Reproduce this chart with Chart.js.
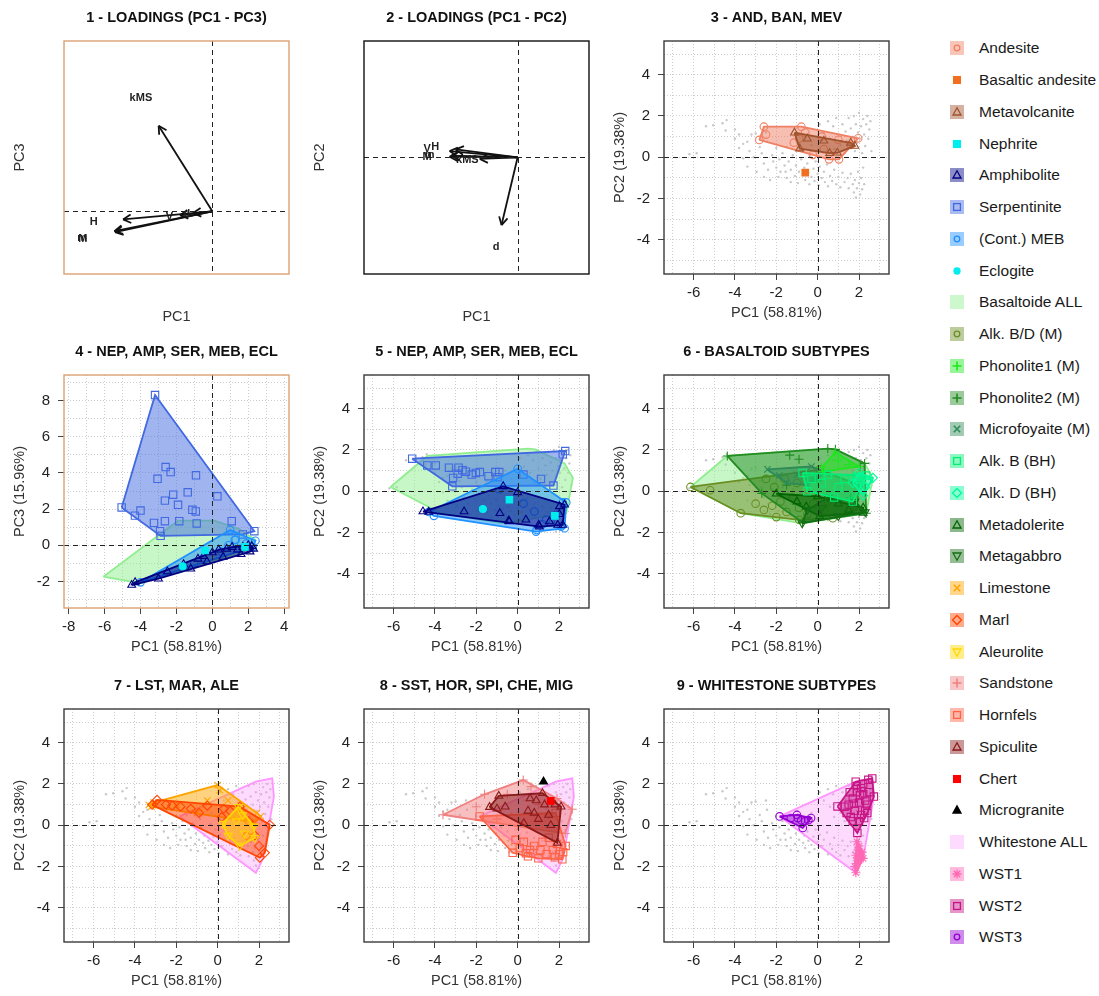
<!DOCTYPE html>
<html>
<head>
<meta charset="utf-8">
<script src="https://cdn.jsdelivr.net/npm/chart.js@4.4.1/dist/chart.umd.min.js"></script>
<style>
  body { margin: 0; background: #fff; width: 1099px; height: 996px; overflow: hidden; position: relative;
         font-family: "Liberation Sans", Arial, sans-serif; }
  canvas.panel { position: absolute; }
  .lg { position: absolute; left: 949px; height: 16px; }
  .lg svg { position: absolute; left: 0; top: 0; }
  .lg span { position: absolute; left: 30px; top: -1px; line-height: 18px; white-space: nowrap; font-size: 15.5px; color: #1a1a1a; }
</style>
</head>
<body>
<div id="legend"></div>
<script>
const FONT = '"Liberation Sans", Arial, sans-serif';

// ---- loadings (plot units) ----
const load13Names = ['kMS', 'H', 'M', 'm', 'V', 'd'];
const load13PC1 = [-2.99, -4.97, -5.42, -5.45, -1.8, -1.07];
const load13PC3 = [4.73, -0.45, -1.16, -1.1, -0.22, -0.1];

const load12Names = ['kMS', 'H', 'V', 'M', 'm', 'd'];
const load12PC1 = [-1.83, -3.0, -3.29, -3.29, -3.2, -0.78];
const load12PC2 = [-0.08, 0.38, 0.3, 0.03, 0.08, -3.28];

// ---- all samples, PC1 / PC2 (grey background) ----
const allSamples = [
  [-6.2,0.15],[-5.85,0.2],[-5.4,1.5],[-5.05,1.55],[-4.6,1.65],[-4.4,1.8],[-4.45,1.3],[-4.0,1.35],[-4.0,0.9],
  [-3.8,0.45],[-3.6,0.65],[-3.4,0.75],[-3.2,1.1],[-3.0,1.15],[-3.3,0.3],[-3.6,-0.05],[-3.4,-0.45],[-3.1,0.0],
  [-2.95,-0.7],[-2.8,0.5],[-2.7,0.2],[-2.6,-0.3],[-2.6,-0.95],[-2.45,0.75],[-2.4,-0.6],[-2.3,-1.1],[-2.2,0.1],
  [-2.15,-0.2],[-2.0,-0.5],[-2.0,0.45],[-1.9,-0.95],[-1.85,-0.1],[-1.8,-0.7],[-1.7,0.2],[-1.6,-0.4],[-1.55,-0.7],
  [-1.5,-1.0],[-1.4,-0.2],[-1.3,-1.2],[-1.3,-0.6],[-1.2,0.1],[-1.1,-0.9],[-1.05,-0.4],[-0.95,-1.25],[-0.9,-0.7],
  [-0.85,0.3],[-0.8,-0.1],[-0.7,-0.85],[-0.65,-0.5],[-0.6,-1.1],[-0.5,-0.3],[-0.45,-0.75],[-0.4,-1.3],[-0.35,0.05],
  [-0.3,-0.95],[-0.2,-0.55],[-0.15,-1.15],[-0.1,-0.2],[0.0,-0.8],[0.05,-1.35],[0.1,-0.45],[0.2,-1.0],[0.3,-0.7],
  [0.35,-1.2],[0.45,-0.35],[0.5,-1.4],[0.6,-0.9],[0.7,-1.15],[0.8,-0.6],[0.9,-1.3],[1.0,-0.95],[1.1,-1.45],
  [1.2,-0.75],[1.3,-1.2],[1.45,-1.0],[1.5,-1.5],[1.6,-0.8],[1.7,-1.3],[1.75,-1.7],[1.8,-1.1],[1.85,-1.95],
  [1.9,-1.5],[1.95,-0.7],[2.0,-1.25],[2.05,-1.8],[2.1,-1.0],[2.15,-1.55],[2.2,-0.5],[2.25,-1.3],
  [0.1,1.6],[0.3,1.2],[0.5,1.75],[0.6,0.9],[0.75,1.5],[0.8,0.4],[0.9,1.9],[1.0,1.1],[1.1,0.6],[1.2,1.6],
  [1.3,0.2],[1.35,1.25],[1.4,0.8],[1.5,1.9],[1.55,0.45],[1.6,1.4],[1.7,1.0],[1.75,2.0],[1.8,0.3],[1.85,1.6],
  [1.9,0.7],[1.95,1.2],[2.0,2.15],[2.05,0.9],[2.1,1.5],[2.15,0.2],[2.2,1.85],[2.25,1.1],[2.3,0.55],[2.35,1.6],
  [2.4,2.0],[2.45,0.9],[2.5,1.35],[2.55,1.75],[2.6,0.3],[-0.6,1.0],[-1.0,0.7],[-0.3,0.6],[0.0,0.3],[-1.5,0.5],
  [-2.5,1.2],[-3.8,1.1]
];

// ---- PC1 / PC2 groups ----
const andesite12 = [[-2.6,1.48],[-2.82,0.84],[-2.5,1.1],[-0.79,1.48],[-1.15,0.71],[-0.6,1.2],[0.2,1.0],[1.0,0.85],
  [1.96,0.92],[1.6,0.6],[1.03,-0.1],[0.55,-0.1],[-0.23,0.12],[0.3,0.4],[-0.9,0.9]];
const metavolc12 = [[-1.12,1.19],[-0.87,0.42],[0.58,0.2],[0.95,0.22],[1.8,0.55],[1.6,0.7],[0.3,0.8],[-0.5,0.9]];
const basAndesite12 = [[-0.6,-0.74]];

const serp12 = [[-5.1,1.58],[-4.37,1.25],[-3.96,1.25],[-3.32,1.14],[-2.86,1.14],[-2.67,1.02],[-2.22,0.81],[-2.02,0.89],
  [-1.83,0.93],[-1.41,0.73],[-1.08,0.93],[-0.89,0.93],[-0.97,0.68],[-3.12,0.65],[-3.16,0.24],[0.28,0.81],[1.13,0.6],
  [1.73,0.28],[2.3,1.95],[2.18,1.79],[-2.5,0.95],[-2.9,0.85]];
const meb12 = [[-4.05,-1.19],[-4.3,-1.0],[-0.9,0.1],[0.0,1.09],[2.35,-0.54],[2.27,-1.79],[0.89,-1.95],[0.28,-0.6],
  [0.81,-0.98],[1.38,-1.38],[0.92,-1.87],[1.86,-1.14],[2.18,-0.54],[2.1,-1.71],[1.6,-1.5],[1.2,-1.6]];
const amph12 = [[-4.58,-0.98],[-0.7,0.24],[0.0,-0.05],[2.02,-0.73],[2.27,-0.65],[2.18,-1.63],[1.05,-1.71],[-0.4,-1.46],
  [-2.59,-0.98],[-0.86,-1.06],[-0.44,-1.43],[0.4,-1.38],[1.02,-1.63],[1.54,-1.46],[2.02,-1.11],[1.94,-1.63],[-4.3,-1.0]];
const neph12 = [[-0.4,-0.41],[1.8,-1.19]];
const eclog12 = [[-1.68,-0.86]];

const alkBDM12 = [[-6.15,0.21],[-5.2,0.05],[-3.72,-1.06],[-2.0,-1.25],[-0.89,-1.38],[0.73,-1.3],[1.9,-0.9],[2.0,0.3],
  [0.1,1.05],[-2.5,0.6],[-2.6,-0.9],[-2.2,-0.7],[-1.8,-0.5],[-1.5,-1.0],[-1.2,-0.3],[-0.9,-0.8],[-0.5,-1.1],
  [-0.2,-0.6],[0.3,-0.9],[-3.0,-0.6],[-1.0,0.4],[-1.6,0.6],[-2.1,0.2],[-0.4,0.7],[0.5,-0.5]];
const phon2M12 = [[-4.37,1.71],[-1.35,1.75],[-0.9,1.55],[0.49,2.07],[0.86,2.03],[2.27,1.35],[2.35,-1.06],
  [-0.73,-1.51],[-2.7,-0.1],[1.6,-0.3],[2.05,1.2],[0.0,0.5],[-1.5,0.3]];
const microfM12 = [[-2.43,1.06],[-1.86,0.76],[-0.3,1.2],[0.4,0.9],[-0.5,0.3],[-1.5,0.4],[-1.0,0.8]];
const metadol12 = [[-2.0,-0.12],[0.0,-0.25],[2.2,-0.8],[2.2,-1.05],[0.1,-1.2],[-0.55,-0.75],[-1.0,-0.5],[1.0,-0.6],[1.5,-0.9]];
const metagab12 = [[-0.75,-1.55],[-0.5,-0.9],[0.5,-0.3],[1.8,-0.5],[2.3,-1.0],[1.0,-1.2],[0.2,-0.8]];
const phon1M12 = [[0.2,1.15],[0.85,1.9],[2.0,1.2],[0.25,0.95],[1.5,1.3],[1.0,1.5]];
const alkBBH12 = [[-0.73,0.89],[2.35,0.76],[1.7,-0.5],[-0.5,0.0],[0.8,-0.3],[0.5,0.8],[1.3,0.6],[0.2,0.4],[1.0,0.2],[-0.3,0.6],[1.9,0.7]];
const alkDBH12 = [[2.67,0.65],[2.3,0.2],[1.7,0.4],[2.0,0.9],[2.2,-0.2],[2.45,0.5]];

const limestone12 = [[-3.33,0.99],[-3.1,1.1],[-3.2,0.9],[0.0,1.95],[0.1,1.7],[2.08,0.43],[1.9,0.6],[1.8,0.15],
  [-1.0,0.6],[-2.0,1.0],[0.5,1.2],[1.2,0.8],[-0.5,1.2]];
const marl12 = [[-3.17,0.99],[-2.93,1.23],[-0.5,0.95],[1.07,0.9],[2.52,0.03],[2.28,-1.33],[2.04,-1.57],[-2.5,1.0],
  [-1.8,0.9],[-1.3,0.8],[-0.9,0.6],[0.3,0.8],[0.6,0.7],[1.5,0.2],[1.8,-0.5],[1.4,-0.5],[2.0,-1.0],[0.2,0.4],[-2.2,0.95]];
const aleurolite12 = [[0.24,0.08],[1.0,0.9],[1.75,-0.05],[1.8,-0.6],[1.07,-1.0],[0.5,-0.5],[1.3,-0.4],[0.9,0.2],[1.2,0.5]];

const sandstone12 = [[-3.61,0.51],[-1.6,1.5],[0.27,2.19],[0.64,1.87],[2.64,0.78],[2.3,-0.4],[0.0,0.0],[-1.0,0.3],
  [-2.0,0.9],[1.0,1.0],[1.5,0.5],[-0.5,1.5],[1.9,1.3]];
const hornfels12 = [[-1.84,0.43],[1.84,0.6],[2.32,-1.0],[2.16,-1.65],[-0.24,-1.33],[0.5,-1.5],[1.0,-1.6],[1.4,-1.4],
  [0.8,-1.0],[1.2,-0.8],[1.7,-1.2],[2.0,-1.4],[0.3,-0.8],[1.5,-0.6],[0.1,-1.1],[0.6,-1.2],[1.9,-0.9],[2.2,-1.3],
  [1.1,-1.2],[0.4,-1.35],[1.8,-1.55],[-0.1,-0.7]];
const spiculite12 = [[-1.36,0.88],[-0.91,1.42],[-1.0,0.8],[-0.6,0.9],[0.3,0.1],[0.6,1.3],[0.9,1.2],[1.2,1.55],[1.3,1.0],
  [1.8,1.0],[2.1,0.9],[1.92,-0.85],[0.8,0.6],[1.5,0.5],[0.5,0.7],[1.0,0.3],[1.6,0.0]];
const chert12 = [[1.6,1.18]];
const microgranite12 = [[1.25,2.11]];

const wst1_12 = [[1.9,-0.8],[2.0,-1.0],[1.95,-1.2],[2.05,-1.35],[1.85,-1.45],[2.1,-1.55],[2.0,-1.7],[1.9,-1.85],
  [1.8,-2.0],[1.85,-2.3],[2.15,-1.3],[1.95,-1.6],[2.2,-1.6]];
const wst2_12 = [[0.96,0.91],[1.84,2.11],[2.64,2.27],[2.72,1.39],[2.4,0.59],[1.92,-0.37],[1.5,1.0],[1.7,1.3],[1.9,1.6],
  [2.1,1.8],[2.2,1.5],[2.3,1.2],[2.0,1.1],[1.8,0.7],[2.1,0.5],[1.6,0.4],[2.4,1.0],[2.0,0.2],[1.4,0.6],[2.2,2.0],
  [1.9,1.9],[2.5,1.6],[1.3,0.9],[1.7,0.2],[2.3,0.7],[2.45,2.2],[1.55,1.6],[2.05,1.45],[1.75,1.05],[2.25,0.35]];
const wst3_12 = [[-1.84,0.43],[-1.0,0.5],[-0.96,0.35],[-0.32,0.35],[-0.72,-0.13],[-0.6,0.2],[-0.8,0.25],[-0.45,0.25],[-1.3,0.35]];

// ---- PC1 / PC3 groups ----
const basaltoid13 = [[-6.07,-1.74],[-3.2,0.4],[-1.9,1.36],[0.1,1.36],[1.5,0.9],[2.4,0.3],[2.3,-0.15],[-4.0,-2.1],
  [-2.0,0.0],[-1.0,-0.3],[0.5,0.2],[1.2,-0.2],[-3.0,-0.8]];
const serp13 = [[-3.19,8.31],[-5.05,2.09],[-4.31,1.64],[-4.0,1.92],[-3.05,3.68],[-2.6,4.33],[-2.32,4.05],[-0.91,3.87],
  [-2.64,2.47],[-2.18,2.8],[-1.91,2.24],[-1.37,2.93],[-1.11,1.96],[-0.92,1.87],[-0.87,1.21],[-1.84,1.33],[-2.64,1.33],
  [-3.25,1.24],[-2.91,0.78],[-2.88,0.52],[0.28,2.71],[1.08,1.33],[2.34,0.78],[1.7,0.6]];
const meb13 = [[-4.0,-2.05],[0.99,0.84],[2.4,0.25],[2.25,-0.1],[1.3,0.3],[0.9,0.0],[1.5,-0.2],[0.5,-0.35],[-1.0,-1.0],[1.9,0.1],[1.25,0.3]];
const amph13 = [[-4.49,-2.2],[-4.3,-2.05],[-2.5,-1.45],[-1.6,-1.05],[-0.8,-0.75],[-0.5,-0.6],[0.0,-0.4],[0.35,-0.25],
  [0.8,-0.2],[1.1,-0.1],[1.4,-0.25],[1.7,-0.1],[2.0,0.0],[2.2,-0.05],[2.3,-0.2],[2.1,-0.35],[1.6,-0.5],[0.6,-0.65],
  [-0.3,-0.9],[-1.2,-1.3],[-3.0,-1.85]];
const neph13 = [[-0.4,-0.29],[1.82,-0.09]];
const eclog13 = [[-1.65,-1.16]];

// ---- styles ----
const STYLE = {
  andesite: {label: 'Andesite', rgb: [240,128,100], marker: 'circle'},
  basAnd:   {label: 'Basaltic andesite', rgb: [240,112,32], marker: 'rect', filled: true, noHull: true},
  metavolc: {label: 'Metavolcanite', rgb: [160,82,45], marker: 'triangle'},
  nephrite: {label: 'Nephrite', rgb: [0,238,238], marker: 'rect', filled: true, noHull: true},
  amph:     {label: 'Amphibolite', rgb: [0,0,128], marker: 'triangle'},
  serp:     {label: 'Serpentinite', rgb: [65,105,225], marker: 'rect'},
  meb:      {label: '(Cont.) MEB', rgb: [30,144,255], marker: 'circle'},
  eclog:    {label: 'Eclogite', rgb: [0,238,238], marker: 'circle', filled: true, noHull: true},
  basAll:   {label: 'Basaltoide ALL', rgb: [144,238,144], marker: null},
  alkBDM:   {label: 'Alk. B/D (M)', rgb: [107,142,35], marker: 'circle'},
  phon1:    {label: 'Phonolite1 (M)', rgb: [30,230,30], marker: 'cross'},
  phon2:    {label: 'Phonolite2 (M)', rgb: [34,139,34], marker: 'cross'},
  microf:   {label: 'Microfoyaite (M)', rgb: [46,139,87], marker: 'crossRot'},
  alkBBH:   {label: 'Alk. B (BH)', rgb: [0,238,118], marker: 'rect'},
  alkDBH:   {label: 'Alk. D (BH)', rgb: [0,250,154], marker: 'rectRot'},
  metadol:  {label: 'Metadolerite', rgb: [0,100,0], marker: 'triangle'},
  metagab:  {label: 'Metagabbro', rgb: [20,110,20], marker: 'triangleDown'},
  limest:   {label: 'Limestone', rgb: [255,165,0], marker: 'crossRot'},
  marl:     {label: 'Marl', rgb: [255,69,0], marker: 'rectRot'},
  aleur:    {label: 'Aleurolite', rgb: [255,215,0], marker: 'triangleDown'},
  sandst:   {label: 'Sandstone', rgb: [240,128,128], marker: 'cross'},
  hornf:    {label: 'Hornfels', rgb: [255,99,71], marker: 'rect'},
  spic:     {label: 'Spiculite', rgb: [139,26,26], marker: 'triangle'},
  chert:    {label: 'Chert', rgb: [255,0,0], marker: 'rect', filled: true, noHull: true},
  microgr:  {label: 'Microgranite', rgb: [0,0,0], marker: 'triangle', filled: true, noHull: true},
  wstAll:   {label: 'Whitestone ALL', rgb: [255,150,255], marker: null, alpha: 0.35},
  wst1:     {label: 'WST1', rgb: [255,105,180], marker: 'star'},
  wst2:     {label: 'WST2', rgb: [199,21,133], marker: 'rect'},
  wst3:     {label: 'WST3', rgb: [148,0,211], marker: 'circle'}
};
const legendOrder = ['andesite','basAnd','metavolc','nephrite','amph','serp','meb','eclog','basAll','alkBDM','phon1',
  'phon2','microf','alkBBH','alkDBH','metadol','metagab','limest','marl','aleur','sandst','hornf','spic','chert',
  'microgr','wstAll','wst1','wst2','wst3'];

const basaltoidAll12 = [].concat(alkBDM12, phon2M12, microfM12, metadol12, metagab12, phon1M12, alkBBH12, alkDBH12);
const whitestoneAll12 = [].concat(wst1_12, wst2_12, wst3_12);

const R12 = {x: [-7.43, 3.45], y: [-5.65, 5.63]};
const R13 = {x: [-8.26, 4.27], y: [-3.47, 9.42]};
const TAN = '#DBA274', DARK = '#3a3a3a';

const PANELS = [
  {title: '1 - LOADINGS (PC1 - PC3)', xt: 'PC1', yt: 'PC3', frame: TAN, range: R13,
   load: {names: load13Names, x: load13PC1, y: load13PC3}},
  {title: '2 - LOADINGS (PC1 - PC2)', xt: 'PC1', yt: 'PC2', frame: '#111', range: R12,
   load: {names: load12Names, x: load12PC1, y: load12PC2}},
  {title: '3 - AND, BAN, MEV', frame: DARK, range: R12, gray: true,
   layers: [['andesite', andesite12], ['metavolc', metavolc12], ['basAnd', basAndesite12]]},
  {title: '4 - NEP, AMP, SER, MEB, ECL', yt: 'PC3 (15.96%)', frame: TAN, range: R13,
   layers: [['basAll', basaltoid13], ['serp', serp13], ['meb', meb13], ['amph', amph13], ['nephrite', neph13], ['eclog', eclog13]]},
  {title: '5 - NEP, AMP, SER, MEB, ECL', frame: DARK, range: R12, gray: true,
   layers: [['basAll', basaltoidAll12], ['serp', serp12], ['meb', meb12], ['amph', amph12], ['nephrite', neph12], ['eclog', eclog12]]},
  {title: '6 - BASALTOID SUBTYPES', frame: DARK, range: R12, gray: true,
   layers: [['basAll', basaltoidAll12], ['alkBDM', alkBDM12], ['phon2', phon2M12], ['microf', microfM12],
            ['metadol', metadol12], ['metagab', metagab12], ['phon1', phon1M12], ['alkBBH', alkBBH12], ['alkDBH', alkDBH12]]},
  {title: '7 - LST, MAR, ALE', frame: DARK, range: R12, gray: true,
   layers: [['wstAll', whitestoneAll12], ['limest', limestone12], ['marl', marl12], ['aleur', aleurolite12]]},
  {title: '8 - SST, HOR, SPI, CHE, MIG', frame: DARK, range: R12, gray: true,
   layers: [['wstAll', whitestoneAll12], ['sandst', sandstone12], ['hornf', hornfels12], ['spic', spiculite12],
            ['chert', chert12], ['microgr', microgranite12]]},
  {title: '9 - WHITESTONE SUBTYPES', frame: DARK, range: R12, gray: true,
   layers: [['wstAll', whitestoneAll12], ['wst1', wst1_12], ['wst2', wst2_12], ['wst3', wst3_12]]}
];

const rgba = (c, a) => `rgba(${c[0]},${c[1]},${c[2]},${a})`;

function convexHull(pts) {
  const p = pts.map(a => a.slice()).sort((a, b) => a[0] - b[0] || a[1] - b[1]);
  const cross = (o, a, b) => (a[0] - o[0]) * (b[1] - o[1]) - (a[1] - o[1]) * (b[0] - o[0]);
  const lower = [], upper = [];
  for (const q of p) {
    while (lower.length >= 2 && cross(lower[lower.length - 2], lower[lower.length - 1], q) <= 0) lower.pop();
    lower.push(q);
  }
  for (let i = p.length - 1; i >= 0; i--) {
    const q = p[i];
    while (upper.length >= 2 && cross(upper[upper.length - 2], upper[upper.length - 1], q) <= 0) upper.pop();
    upper.push(q);
  }
  upper.pop(); lower.pop();
  const h = lower.concat(upper);
  h.push(h[0]);
  return h;
}

function markerOpts(st) {
  const m = st.marker;
  const col = rgba(st.rgb, 1);
  const o = {pointStyle: m === 'triangleDown' ? 'triangle' : m, rotation: m === 'triangleDown' ? 180 : 0,
    radius: 4.5, fill: st.filled ? col : 'rgba(0,0,0,0)', col};
  if (m === 'circle') o.radius = 3.8;
  if (m === 'rect') o.radius = 5.2;
  if (st.filled) o.radius = m === 'circle' ? 3.5 : 4.6;
  return o;
}

function buildDatasets(p) {
  const ds = [];
  if (p.gray) {
    ds.push({type: 'scatter', data: allSamples.map(([x, y]) => ({x, y})), pointRadius: 1.2, pointBorderWidth: 0,
      pointBackgroundColor: '#c8c8c8', pointBorderColor: '#c8c8c8'});
  }
  (p.layers || []).forEach(([key, pts]) => {
    const st = STYLE[key];
    if (!st.noHull && pts.length > 2) {
      ds.push({type: 'line', data: convexHull(pts).map(([x, y]) => ({x, y})), borderColor: rgba(st.rgb, 1),
        backgroundColor: rgba(st.rgb, st.alpha || 0.5), borderWidth: 1.8, pointRadius: 0, fill: 'shape', tension: 0});
    }
    if (st.marker) {
      const m = markerOpts(st);
      ds.push({type: 'scatter', data: pts.map(([x, y]) => ({x, y})), pointStyle: m.pointStyle, pointRotation: m.rotation,
        pointRadius: m.radius, pointBorderWidth: 1.1, pointBorderColor: m.col, pointBackgroundColor: m.fill});
    }
  });
  if (p.load) {
    p.load.names.forEach((n, i) => {
      ds.push({type: 'line', label: n, arrow: true, data: [{x: 0, y: 0}, {x: p.load.x[i], y: p.load.y[i]}],
        borderColor: '#111', borderWidth: 1.8, pointRadius: 0, fill: false});
    });
  }
  ds.forEach((d, i) => { d.order = -i; });
  return ds;
}

const deco = {
  id: 'deco',
  afterDatasetsDraw(chart, args, opts) {
    const {ctx, chartArea: a, scales: {x, y}} = chart;
    ctx.save();
    // arrow heads and loading labels
    chart.data.datasets.forEach((d, i) => {
      if (!d.arrow) return;
      const pts = chart.getDatasetMeta(i).data;
      const p0 = pts[0], p1 = pts[1];
      const ang = Math.atan2(p1.y - p0.y, p1.x - p0.x);
      ctx.strokeStyle = '#111'; ctx.lineWidth = 1.8; ctx.setLineDash([]);
      ctx.beginPath();
      [ang + Math.PI - 0.5, ang + Math.PI + 0.5].forEach(t => {
        ctx.moveTo(p1.x, p1.y);
        ctx.lineTo(p1.x + 9 * Math.cos(t), p1.y + 9 * Math.sin(t));
      });
      ctx.stroke();
      const tip = d.data[1];
      ctx.fillStyle = '#222';
      ctx.font = 'bold 11px ' + FONT;
      ctx.textAlign = 'center'; ctx.textBaseline = 'middle';
      ctx.fillText(d.label, x.getPixelForValue(tip.x * 1.33), y.getPixelForValue(tip.y * 1.33));
    });
    // dashed zero lines
    ctx.strokeStyle = '#222'; ctx.lineWidth = 1; ctx.setLineDash([5, 4]);
    const px = Math.round(x.getPixelForValue(0)) + 0.5, py = Math.round(y.getPixelForValue(0)) + 0.5;
    ctx.beginPath();
    ctx.moveTo(px, a.top); ctx.lineTo(px, a.bottom);
    ctx.moveTo(a.left, py); ctx.lineTo(a.right, py);
    ctx.stroke();
    ctx.restore();
  },
  afterDraw(chart, args, opts) {
    const {ctx, chartArea: a} = chart;
    ctx.save();
    ctx.strokeStyle = opts.frame; ctx.lineWidth = 1.4;
    ctx.strokeRect(a.left, a.top, a.right - a.left, a.bottom - a.top);
    ctx.restore();
  }
};

function axis(isX, p) {
  const range = isX ? p.range.x : p.range.y;
  const ticksOn = !p.load;
  const title = isX ? (p.xt || 'PC1 (58.81%)') : (p.yt || 'PC2 (19.38%)');
  return {
    type: 'linear', min: range[0], max: range[1],
    border: {display: false, dash: [1, 2]},
    grid: {display: ticksOn, color: '#cdcdcd', lineWidth: 1, tickLength: 6, tickWidth: 1, tickBorderDash: [],
      tickColor: c => (c.tick && Math.abs(c.tick.value % 2) === 0) ? '#444' : 'rgba(0,0,0,0)'},
    ticks: {display: ticksOn, stepSize: 1, includeBounds: false, autoSkip: false, maxRotation: 0, minRotation: 0,
      padding: isX ? 4 : 8, color: '#222', font: {family: FONT, size: 15},
      callback: v => Math.abs(v % 2) === 0 ? String(v) : ''},
    title: {display: true, text: title, color: '#333', font: {family: FONT, size: 14.5},
      padding: isX ? {top: 0, bottom: p.load ? 8.6 : 12.3} : {top: 11.3, bottom: 0}},
    afterFit: s => { if (isX) s.height = 60; else s.width = 64; }
  };
}

PANELS.forEach((p, k) => {
  const cv = document.createElement('canvas');
  cv.className = 'panel';
  cv.width = 300; cv.height = 334;
  cv.style.left = (k % 3) * 300 + 'px';
  cv.style.top = Math.floor(k / 3) * 334 + 'px';
  document.body.appendChild(cv);
  new Chart(cv, {
    type: 'scatter',
    data: {datasets: buildDatasets(p)},
    options: {
      responsive: false, animation: false, events: [],
      layout: {padding: {left: 0, top: 0, right: 11, bottom: 0}},
      scales: {x: axis(true, p), y: axis(false, p)},
      plugins: {
        legend: {display: false}, tooltip: {enabled: false},
        title: {display: true, text: p.title, fullSize: false, color: '#111',
          font: {family: FONT, size: 14.5, weight: 'bold'}, padding: {top: 9.3, bottom: 14.3}},
        deco: {frame: p.frame}
      }
    },
    plugins: [deco]
  });
});

// ---- legend ----
function markerSvg(st) {
  const c = rgba(st.rgb, 1);
  const f = st.filled ? c : 'none';
  const s = `stroke="${c}" stroke-width="1.3" fill="${f}"`;
  switch (st.marker) {
    case 'circle': return `<circle cx="8" cy="8" r="${st.filled ? 3 : 2.8}" ${s}/>`;
    case 'rect': return `<rect x="4.6" y="4.6" width="6.8" height="6.8" ${s}/>`;
    case 'triangle': return `<polygon points="8,3.8 12,11 4,11" ${s}/>`;
    case 'triangleDown': return `<polygon points="8,12.2 12,5 4,5" ${s}/>`;
    case 'rectRot': return `<polygon points="8,3.5 12.5,8 8,12.5 3.5,8" ${s}/>`;
    case 'cross': return `<path d="M8 3.5V12.5M3.5 8H12.5" stroke="${c}" stroke-width="1.6"/>`;
    case 'crossRot': return `<path d="M4.8 4.8L11.2 11.2M11.2 4.8L4.8 11.2" stroke="${c}" stroke-width="1.6"/>`;
    case 'star': return `<path d="M8 3.5V12.5M3.5 8H12.5M4.8 4.8L11.2 11.2M11.2 4.8L4.8 11.2" stroke="${c}" stroke-width="1.3"/>`;
  }
  return '';
}
const lg = document.getElementById('legend');
legendOrder.forEach((key, i) => {
  const st = STYLE[key];
  const row = document.createElement('div');
  row.className = 'lg';
  row.style.top = (48.3 + 31.75 * i - 8) + 'px';
  const bg = st.noHull ? '' : `<rect x="1" y="1" width="14" height="14" fill="${rgba(st.rgb, st.alpha ? 0.35 : 0.45)}"/>`;
  row.innerHTML = `<svg width="16" height="16" viewBox="0 0 16 16">${bg}${st.marker ? markerSvg(st) : ''}</svg><span>${st.label}</span>`;
  lg.appendChild(row);
});
</script>
</body>
</html>
